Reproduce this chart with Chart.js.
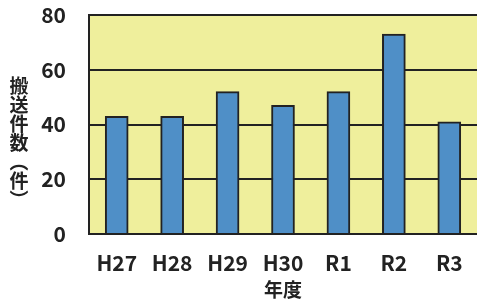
<!DOCTYPE html>
<html>
<head>
<meta charset="utf-8">
<script src="https://cdn.jsdelivr.net/npm/chart.js@4.4.0/dist/chart.umd.min.js"></script>
<style>
  html, body { margin: 0; padding: 0; background: #fff; }
  #wrap { width: 477px; height: 303px; }
</style>
</head>
<body>
<div id="wrap"><canvas id="chart" width="477" height="303"></canvas></div>
<script>
// data
const years = ["H27", "H28", "H29", "H30", "R1", "R2", "R3"];
const counts = [43, 43, 52, 47, 52, 73, 41];
const yTicks = [0, 20, 40, 60, 80];
const yTitle = ["搬", "送", "件", "数", "︵", "件", "︶"];
const xTitle = "年度";

const FONT = "'Noto Sans CJK JP', 'Noto Sans', sans-serif";
const INK = "#222222";

// yellow plot background + vertical y title
const plotDecor = {
    id: "plotDecor",
    beforeDraw(chart) {
        const { ctx, chartArea } = chart;
        ctx.save();
        ctx.fillStyle = "#efef9c";
        ctx.fillRect(chartArea.left, chartArea.top, chartArea.right - chartArea.left, chartArea.bottom - chartArea.top);
        ctx.restore();
    },
    afterDraw(chart) {
        const { ctx } = chart;
        ctx.save();
        ctx.fillStyle = INK;
        ctx.font = "bold 19px " + FONT;
        ctx.textAlign = "center";
        ctx.textBaseline = "middle";
        const step = 19;
        let y = 143 - (yTitle.length - 1) * step / 2;
        yTitle.forEach(ch => {
            ctx.fillText(ch, 19, y);
            y += step;
        });
        ctx.restore();
    }
};

new Chart(document.getElementById("chart"), {
    type: "bar",
    data: {
        labels: years,
        datasets: [{
            data: counts,
            backgroundColor: "#4f8fc7",
            borderColor: INK,
            borderWidth: 2,
            barThickness: 23
        }]
    },
    plugins: [plotDecor],
    options: {
        responsive: false,
        animation: false,
        layout: { padding: { top: 15, right: 0, bottom: 0, left: 0 } },
        plugins: {
            legend: { display: false },
            tooltip: { enabled: false }
        },
        scales: {
            x: {
                afterFit: scale => { scale.height = 69; },
                grid: { display: false },
                border: { display: true, color: INK, width: 2 },
                ticks: {
                    color: INK,
                    font: { family: FONT, size: 21, weight: "bold" },
                    padding: 8,
                    maxRotation: 0
                },
                title: {
                    display: true,
                    text: xTitle,
                    color: INK,
                    font: { family: FONT, size: 19, weight: "bold" },
                    padding: { top: 0, bottom: 2 }
                }
            },
            y: {
                min: 0,
                max: 80,
                afterBuildTicks: scale => {
                    scale.ticks = yTicks.map(v => ({ value: v }));
                },
                afterFit: scale => {
                    scale.width = 89;
                    scale.paddingTop = 0;
                    scale.paddingBottom = 0;
                },
                grid: { color: INK, lineWidth: 2, drawTicks: false },
                border: { display: true, color: INK, width: 2 },
                ticks: {
                    color: INK,
                    font: { family: FONT, size: 21, weight: "bold" },
                    padding: 23
                }
            }
        }
    }
});
</script>
</body>
</html>
